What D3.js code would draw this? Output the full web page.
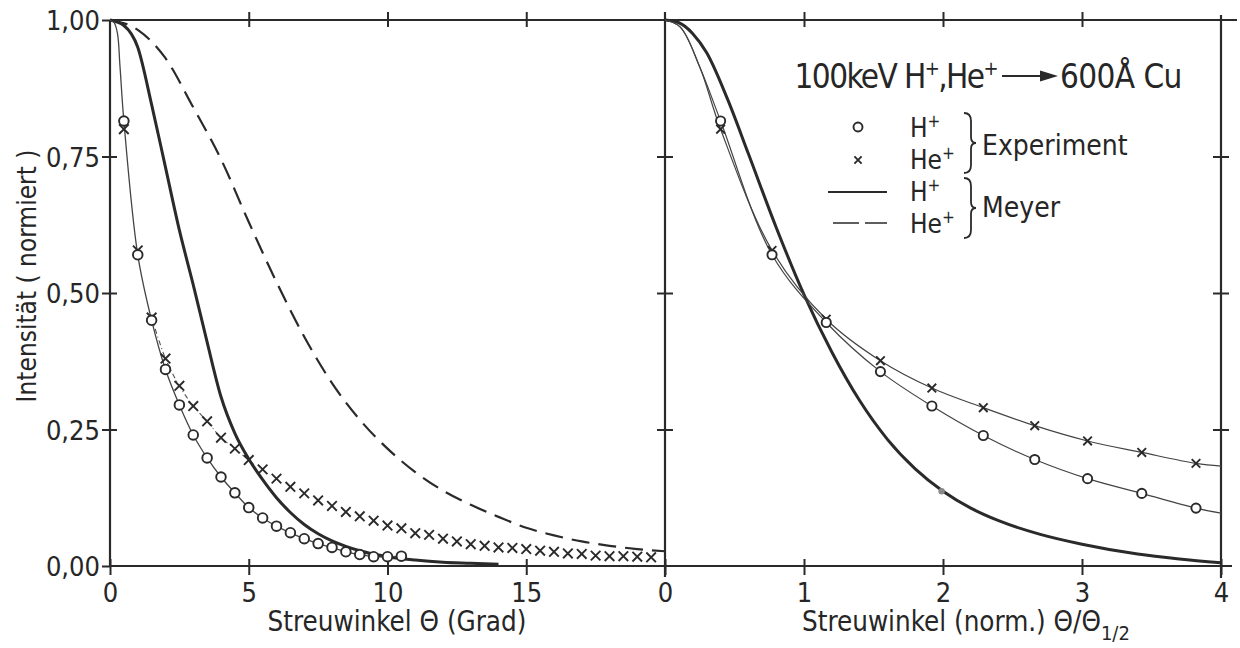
<!DOCTYPE html>
<html>
<head>
<meta charset="utf-8">
<script src="https://cdn.jsdelivr.net/npm/d3@7"></script>
<style>
  body { margin: 0; background: #fff; }
  svg text { font-family: "DejaVu Sans Condensed", "Liberation Sans Narrow", sans-serif; fill: #262626; }
</style>
</head>
<body>
<svg id="chart" width="1240" height="648"></svg>
<script>
// ---- data ----
// left panel: scattering angle in degrees
var expDeg = [0.5, 1, 1.5, 2, 2.5, 3, 3.5, 4, 4.5, 5, 5.5, 6, 6.5, 7, 7.5, 8, 8.5, 9, 9.5, 10, 10.5];
var expH = [0.815, 0.57, 0.45, 0.36, 0.295, 0.24, 0.198, 0.163, 0.134, 0.107, 0.088, 0.073, 0.061, 0.05, 0.041, 0.034, 0.026, 0.021, 0.017, 0.017, 0.018];
var expHeDeg = [0.5, 1, 1.5, 2, 2.5, 3, 3.5, 4, 4.5, 5, 5.5, 6, 6.5, 7, 7.5, 8, 8.5, 9, 9.5, 10,
                10.5, 11, 11.5, 12, 12.5, 13, 13.5, 14, 14.5, 15, 15.5, 16, 16.5, 17, 17.5, 18, 18.5, 19, 19.5];
var expHe = [0.80, 0.578, 0.455, 0.38, 0.33, 0.293, 0.265, 0.235, 0.215, 0.194, 0.177, 0.16, 0.145, 0.133, 0.12, 0.11, 0.099, 0.091, 0.083, 0.074,
             0.069, 0.06, 0.057, 0.05, 0.045, 0.04, 0.037, 0.034, 0.033, 0.031, 0.028, 0.026, 0.023, 0.022, 0.019, 0.018, 0.018, 0.017, 0.016];
// hand drawn guide through the H+ points near the origin
var guideStartDeg = [0, 0.15, 0.27, 0.36];
var guideStartI = [1, 0.995, 0.975, 0.915];

// Meyer theory, left panel
var meyerHDeg = [0, 0.5, 1, 1.5, 2, 2.5, 3, 3.5, 4, 4.5, 5, 5.5, 6, 6.5, 7, 7.5, 8, 8.5, 9, 10, 11, 12, 13, 14];
var meyerH = [1, 0.99, 0.95, 0.845, 0.73, 0.615, 0.515, 0.41, 0.31, 0.243, 0.196, 0.158, 0.125, 0.098, 0.076, 0.059, 0.046, 0.036, 0.028, 0.017, 0.011, 0.007, 0.005, 0.003];
var meyerHeDeg = [0, 1, 2, 3, 4, 5, 6, 7, 8, 9, 10, 11, 12, 13, 14, 15, 16, 17, 18, 19, 20];
var meyerHe = [1, 0.982, 0.93, 0.84, 0.745, 0.63, 0.52, 0.42, 0.335, 0.268, 0.215, 0.172, 0.138, 0.112, 0.09, 0.07, 0.056, 0.045, 0.037, 0.031, 0.027];

// right panel: normalized angle theta / theta_1/2
var normX = [0.40, 0.77, 1.16, 1.55, 1.92, 2.29, 2.66, 3.04, 3.43, 3.82];
var normH = [0.815, 0.57, 0.446, 0.356, 0.293, 0.239, 0.195, 0.16, 0.133, 0.106];
var normHe = [0.80, 0.578, 0.452, 0.376, 0.326, 0.29, 0.257, 0.229, 0.208, 0.188];
var normStartX = [0, 0.11, 0.25];
var normStartI = [1, 0.987, 0.914];
var normEndX = 4;
var normEndH = 0.097;
var normEndHe = 0.183;
var meyerNormX = [0, 0.1, 0.2, 0.3, 0.45, 0.6, 0.8, 1.0, 1.2, 1.4, 1.6, 1.8, 2.0, 2.2, 2.4, 2.7, 3.0, 3.4, 3.7, 4.0];
var meyerNorm = [1, 0.995, 0.975, 0.94, 0.855, 0.755, 0.62, 0.497, 0.392, 0.303, 0.232, 0.178, 0.137, 0.106, 0.083, 0.058, 0.04, 0.022, 0.013, 0.006];
var strayX = [1.99];
var strayI = [0.137];

var yTicks = [0, 0.25, 0.5, 0.75, 1];
var xTicksL = [0, 5, 10, 15];
var xTicksR = [0, 1, 2, 3, 4];

// ---- scales ----
var svg = d3.select("#chart");
var ink = "#2a2a2a";
var xL = d3.scaleLinear().domain([0, 20]).range([110, 665]);
var xR = d3.scaleLinear().domain([0, 4]).range([665, 1221]);
var y = d3.scaleLinear().domain([0, 1]).range([566, 20]);

var fmt = function(d) { return d.toFixed(2).replace(".", ","); };

// ---- frame ----
var frame = svg.append("g").attr("stroke", ink).attr("stroke-width", 2.2);
frame.append("line").attr("x1", xL(0)).attr("x2", xR(4) + 16).attr("y1", y(1)).attr("y2", y(1));
frame.append("line").attr("x1", xL(0)).attr("x2", xR(4) + 11).attr("y1", y(0)).attr("y2", y(0));
frame.append("line").attr("x1", xL(0)).attr("x2", xL(0)).attr("y1", y(1)).attr("y2", y(0));
frame.append("line").attr("x1", xR(0)).attr("x2", xR(0)).attr("y1", y(1) - 8).attr("y2", y(0) + 11);
frame.append("line").attr("x1", xR(4)).attr("x2", xR(4)).attr("y1", y(1) - 5).attr("y2", y(0) + 12);

function styleAxis(g) {
  g.attr("font-size", null).attr("font-family", null).style("color", ink);
  g.select(".domain").remove();
  g.selectAll(".tick line").attr("stroke-width", 2);
}

// left y axis with labels
var gy = svg.append("g").attr("transform", "translate(" + xL(0) + ",0)")
  .call(d3.axisLeft(y).tickValues(yTicks).tickFormat(fmt).tickSize(8).tickPadding(4));
styleAxis(gy);
gy.selectAll(".tick line").attr("x1", function(d) { return d === 0 || d === 1 ? 0 : 7; });
gy.selectAll(".tick text").attr("font-size", 27).attr("dy", "0.36em").attr("x", -10);

// middle and right y ticks
[xR(0), xR(4)].forEach(function(px) {
  var g = svg.append("g").attr("transform", "translate(" + px + ",0)")
    .call(d3.axisLeft(y).tickValues([0.25, 0.5, 0.75]).tickFormat("").tickSize(8));
  styleAxis(g);
  g.selectAll(".tick line").attr("x1", 8);
});

// top ticks
[[xL, [5, 10, 15]], [xR, [1, 2, 3]]].forEach(function(p) {
  var g = svg.append("g").attr("transform", "translate(0," + y(1) + ")")
    .call(d3.axisTop(p[0]).tickValues(p[1]).tickFormat("").tickSize(8));
  styleAxis(g);
  g.selectAll(".tick line").attr("y1", 7);
});

// bottom axes with labels
[[xL, xTicksL], [xR, xTicksR]].forEach(function(p) {
  var g = svg.append("g").attr("transform", "translate(0," + y(0) + ")")
    .call(d3.axisBottom(p[0]).tickValues(p[1]).tickFormat(d3.format("d")).tickSize(9));
  styleAxis(g);
  g.selectAll(".tick line").attr("y1", -7);
  g.selectAll(".tick text").attr("font-size", 27).attr("y", 36).attr("dy", null);
});
// the left panel ends at 20 deg, which coincides with the right panel's 0 label

// ---- axis titles ----
svg.append("text")
  .attr("transform", "translate(36,276) rotate(-90)")
  .attr("text-anchor", "middle").attr("font-size", 26)
  .text("Intensität ( normiert )");

svg.append("text").attr("x", 397).attr("y", 631).attr("text-anchor", "middle").attr("font-size", 27.5)
  .text("Streuwinkel Θ (Grad)");

var tR = svg.append("text").attr("x", 802).attr("y", 631).attr("font-size", 27.5);
tR.append("tspan").text("Streuwinkel (norm.) Θ/Θ");
tR.append("tspan").attr("dy", 9).attr("font-size", 20).text("1/2");

// ---- curves ----
var lineL = d3.line().x(function(d) { return xL(d[0]); }).y(function(d) { return y(d[1]); });
var lineR = d3.line().x(function(d) { return xR(d[0]); }).y(function(d) { return y(d[1]); });
var plot = svg.append("g").attr("fill", "none");

// Meyer H+ (solid, thick) and He+ (dashed), left
plot.append("path").attr("d", lineL.curve(d3.curveMonotoneX)(d3.zip(meyerHDeg, meyerH)))
  .attr("stroke", ink).attr("stroke-width", 3);
plot.append("path").attr("d", lineL.curve(d3.curveMonotoneX)(d3.zip(meyerHeDeg, meyerHe)))
  .attr("stroke", ink).attr("stroke-width", 2.2).attr("stroke-dasharray", "18,9");

// guide through H+ points, left
var guideH = d3.zip(guideStartDeg, guideStartI).concat(d3.zip(expDeg, expH));
plot.append("path").attr("d", lineL.curve(d3.curveCatmullRom.alpha(0.5))(guideH))
  .attr("stroke", "#444").attr("stroke-width", 1.3);
// dash-dot guide through He+ crosses between 1.5 and 5 deg
var guideHe = d3.zip(expHeDeg, expHe).filter(function(d) { return d[0] >= 1.5 && d[0] <= 5; });
plot.append("path").attr("d", lineL.curve(d3.curveCatmullRom.alpha(0.5))(guideHe))
  .attr("stroke", "#555").attr("stroke-width", 1.1).attr("stroke-dasharray", "5,3,1,3");

// right panel: Meyer (normalized) and guides
plot.append("path").attr("d", lineR.curve(d3.curveMonotoneX)(d3.zip(meyerNormX, meyerNorm)))
  .attr("stroke", ink).attr("stroke-width", 3);
var startR = d3.zip(normStartX, normStartI);
plot.append("path")
  .attr("d", lineR.curve(d3.curveCatmullRom.alpha(0.5))(startR.concat(d3.zip(normX, normH), [[normEndX, normEndH]])))
  .attr("stroke", "#444").attr("stroke-width", 1.2);
plot.append("path")
  .attr("d", lineR.curve(d3.curveCatmullRom.alpha(0.5))(startR.concat(d3.zip(normX, normHe), [[normEndX, normEndHe]])))
  .attr("stroke", "#444").attr("stroke-width", 1.2);

// ---- markers ----
var crossPath = function(s) { return "M" + -s + "," + -s + "L" + s + "," + s + "M" + -s + "," + s + "L" + s + "," + -s; };
var marks = svg.append("g");

function circles(data, xs, r) {
  marks.append("g").selectAll("circle").data(data).enter().append("circle")
    .attr("cx", function(d) { return xs(d[0]); })
    .attr("cy", function(d) { return y(d[1]); })
    .attr("r", r).attr("fill", "#fff").attr("stroke", ink).attr("stroke-width", 1.9);
}
function crosses(data, xs, s) {
  marks.append("g").selectAll("path").data(data).enter().append("path")
    .attr("transform", function(d) { return "translate(" + xs(d[0]) + "," + y(d[1]) + ")"; })
    .attr("d", crossPath(s)).attr("stroke", ink).attr("stroke-width", 1.9).attr("fill", "none");
}
crosses(d3.zip(expHeDeg, expHe), xL, 4.8);
circles(d3.zip(expDeg, expH), xL, 4.8);
crosses(d3.zip(normX, normHe), xR, 4.3);
circles(d3.zip(normX, normH), xR, 4.6);
marks.append("g").selectAll("circle").data(d3.zip(strayX, strayI)).enter().append("circle")
  .attr("cx", function(d) { return xR(d[0]); }).attr("cy", function(d) { return y(d[1]); })
  .attr("r", 3.2).attr("fill", "#8a8a8a");

// ---- title ----
var t1 = svg.append("text").attr("x", 997).attr("y", 88).attr("text-anchor", "end")
  .attr("font-size", 33).attr("letter-spacing", -1.6);
t1.append("tspan").text("100keV H");
t1.append("tspan").attr("dy", -13).attr("font-size", 20).text("+");
t1.append("tspan").attr("dy", 13).text(",He");
t1.append("tspan").attr("dy", -13).attr("font-size", 20).text("+");
svg.append("line").attr("x1", 1002).attr("x2", 1044).attr("y1", 76).attr("y2", 76)
  .attr("stroke", ink).attr("stroke-width", 2.2);
svg.append("path").attr("d", "M1058,76L1040,70.5L1040,81.5Z").attr("fill", ink);
svg.append("text").attr("x", 1060).attr("y", 88).attr("font-size", 33).attr("letter-spacing", -0.6).text("600Å Cu");

// ---- legend ----
var lg = svg.append("g");
lg.append("circle").attr("cx", 858).attr("cy", 127).attr("r", 4.5).attr("fill", "none").attr("stroke", ink).attr("stroke-width", 1.9);
lg.append("path").attr("transform", "translate(858,160)").attr("d", crossPath(3.6)).attr("stroke", ink).attr("stroke-width", 1.9);
lg.append("line").attr("x1", 828).attr("x2", 887).attr("y1", 192).attr("y2", 192).attr("stroke", ink).attr("stroke-width", 2);
lg.append("line").attr("x1", 833).attr("x2", 887).attr("y1", 223).attr("y2", 223).attr("stroke", ink).attr("stroke-width", 1.6).attr("stroke-dasharray", "26,6");

var legendRows = [["H", 137], ["He", 169], ["H", 201], ["He", 233]];
legendRows.forEach(function(r) {
  var t = lg.append("text").attr("x", 910).attr("y", r[1]).attr("font-size", 26);
  t.append("tspan").text(r[0]);
  t.append("tspan").attr("dy", -10).attr("font-size", 17).text("+");
});

function brace(x, y0, y1) {
  var m = (y0 + y1) / 2;
  return "M" + x + "," + y0 + "Q" + (x + 7) + "," + y0 + " " + (x + 7) + "," + (y0 + 8) +
    "L" + (x + 7) + "," + (m - 6) + "Q" + (x + 7) + "," + m + " " + (x + 12) + "," + m +
    "Q" + (x + 7) + "," + m + " " + (x + 7) + "," + (m + 6) +
    "L" + (x + 7) + "," + (y1 - 8) + "Q" + (x + 7) + "," + y1 + " " + x + "," + y1;
}
lg.append("path").attr("d", brace(964, 113, 173)).attr("fill", "none").attr("stroke", ink).attr("stroke-width", 1.8);
lg.append("path").attr("d", brace(964, 178, 238)).attr("fill", "none").attr("stroke", ink).attr("stroke-width", 1.8);
lg.append("text").attr("x", 982).attr("y", 155).attr("font-size", 28).text("Experiment");
lg.append("text").attr("x", 982).attr("y", 217).attr("font-size", 28).text("Meyer");
</script>
</body>
</html>
